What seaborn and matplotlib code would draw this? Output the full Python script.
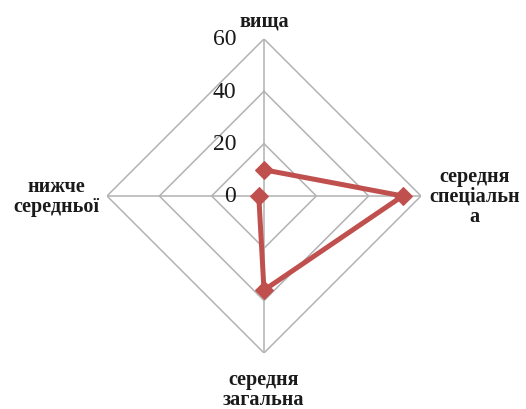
import numpy as np
import pandas as pd
import matplotlib
matplotlib.use("Agg")
import matplotlib.pyplot as plt
import matplotlib.transforms as mtransforms
import seaborn as sns

categories = ["вища", "середня спеціальна", "середня загальна", "нижче середньої"]
label_texts = ["вища", "середня\nспеціальн\nа", "середня\nзагальна", "нижче\nсередньої"]
values = [10, 53, 36, 2]
levels = [0, 20, 40, 60]
tick_labels = ["0", "20", "40", "60"]

sns.set_theme(style="white")
plt.rcParams["font.family"] = ["Liberation Serif", "DejaVu Serif"]

fig = plt.figure(figsize=(5.26, 4.10), dpi=100)
ax = fig.add_axes([0.2034, 0.1366, 0.597, 0.766], projection="polar")
ax.set_theta_zero_location("N")
ax.set_theta_direction(-1)
ax.set_ylim(0, 60)
ax.grid(False)
ax.spines["polar"].set_visible(False)
ax.set_xticks([])
ax.set_yticks([])
ax.set_facecolor("white")

n = len(categories)
angles = np.arange(n) * 2 * np.pi / n
grid_color = "#b2b2b2"

# diamond gridlines
for lv in levels[1:]:
    th = np.append(angles, angles[0])
    ax.plot(th, [lv] * (n + 1), color=grid_color, lw=1.1, zorder=1)
# spokes
for a in angles:
    ax.plot([a, a], [0, 60], color=grid_color, lw=1.1, zorder=1)

df = pd.DataFrame({"theta": np.append(angles, angles[0]),
                   "value": values + [values[0]]})
sns.lineplot(data=df, x="theta", y="value", sort=False, ax=ax,
             color="#C0504D", lw=3.6, marker="D", markersize=9.5,
             markeredgecolor="#C0504D", zorder=3)
ax.set_xlabel("")
ax.set_ylabel("")
ax.set_ylim(0, 60)

# radial tick labels
off = mtransforms.offset_copy(ax.transData, fig=fig, x=-20, y=0, units="points")
for lv, t in zip(levels, tick_labels):
    ax.text(0, lv, t, transform=off, ha="right", va="center",
            fontsize=17, color="#1a1a1a", clip_on=False)

# category labels
label_r = [67.0, 80.5, 73.8, 79.5]
for a, r, t in zip(angles, label_r, label_texts):
    ax.text(a, r, t, ha="center", va="center", fontsize=14.5,
            fontweight="bold", color="#1a1a1a", linespacing=1.0, clip_on=False)

fig.savefig("out.png", dpi=100, facecolor="white")
